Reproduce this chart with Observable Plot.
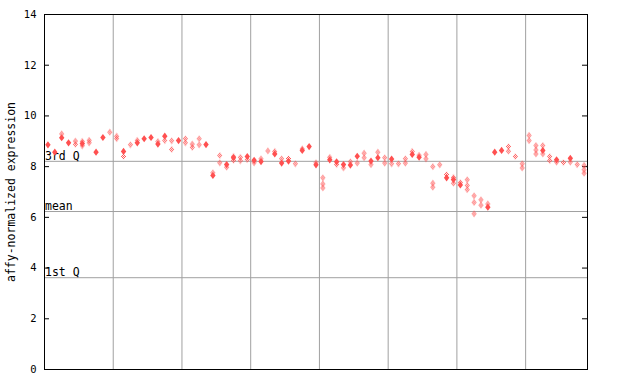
<!DOCTYPE html>
<html>
<head>
<meta charset="utf-8">
<script src="https://cdn.jsdelivr.net/npm/d3@7"></script>
<script src="https://cdn.jsdelivr.net/npm/@observablehq/plot@0.6"></script>
<style>
  html, body { margin: 0; padding: 0; background: #fff; }
</style>
</head>
<body>
<div id="chart"></div>
<script>
// ---- data ----
const nSamples = 79;
const yTicks = [0, 2, 4, 6, 8, 10, 12, 14];
const groupBreaks = [10, 20, 30, 40, 50, 60, 70];
const quantNames = ["3rd Q", "mean", "1st Q"];
const quantVals = [8.21, 6.23, 3.62];
const yLabel = "affy-normalized expression";

// solid (filled) diamonds: sample index and value
const solidIdx = [0, 1, 2, 3, 5, 7, 8, 11, 13, 14, 15, 16, 17, 19, 23, 24, 26, 27, 29, 30, 31, 33, 34, 35, 37, 38, 39,
  41, 42, 43, 44, 45, 47, 48, 50, 53, 54, 58, 59, 60, 64, 65, 66, 72, 74, 76];
const solidVal = [8.86, 8.57, 9.14, 8.94, 8.91, 8.57, 9.15, 8.6, 8.94, 9.1, 9.15, 8.89, 9.2, 9.03, 8.87, 7.65, 8.08, 8.35, 8.4, 8.25, 8.2, 8.5, 8.14, 8.22, 8.64, 8.79, 8.07,
  8.27, 8.19, 8.08, 8.06, 8.41, 8.22, 8.35, 8.3, 8.48, 8.37, 7.56, 7.49, 7.28, 6.4, 8.57, 8.64, 8.64, 8.27, 8.33];

// hatched (checkered) diamonds: sample index and value
const hatchIdx = [2, 4, 4, 5, 5, 6, 6, 9, 10, 10, 11, 12, 13, 16, 17, 18, 18, 20, 20, 21, 21, 22, 22, 24, 25, 25, 26, 27, 27,
  28, 28, 29, 30, 31, 32, 33, 34, 35, 36, 37, 39, 40, 40, 40,
  41, 42, 43, 44, 45, 46, 46, 47, 48, 49, 49, 50, 51, 52, 52, 53, 54, 55, 55, 56, 56, 56, 57, 58, 59, 59, 60,
  61, 61, 61, 62, 62, 62, 63, 63, 64, 67, 67, 68, 69, 69, 70, 70, 71, 71, 71, 72, 72, 73, 73, 74, 75, 76, 77, 78, 78, 78];
const hatchVal = [9.29, 9.01, 8.88, 9.0, 8.82, 9.04, 8.94, 9.36, 9.2, 9.1, 8.4, 8.86, 9.04, 8.99, 9.03, 9.02, 8.68, 9.1, 8.94, 8.89, 8.76, 9.1, 8.86, 7.76, 8.44, 8.15, 7.98, 8.41, 8.25,
  8.37, 8.23, 8.28, 8.15, 8.31, 8.62, 8.6, 8.31, 8.32, 8.11, 8.7, 8.15, 7.56, 7.32, 7.16,
  8.37, 8.08, 7.95, 8.19, 8.14, 8.53, 8.35, 8.08, 8.57, 8.35, 8.14, 8.11, 8.11, 8.31, 8.14, 8.6, 8.45, 8.48, 8.31, 8.0, 7.35, 7.19, 8.07, 7.69, 7.58, 7.35, 7.37,
  7.48, 7.26, 7.09, 6.85, 6.59, 6.14, 6.69, 6.48, 6.53, 8.79, 8.61, 8.4, 8.11, 7.95, 9.23, 9.03, 8.83, 8.66, 8.5, 8.83, 8.5, 8.4, 8.24, 8.18, 8.16, 8.18, 8.08, 8.05, 7.88, 7.74];

const solid = solidIdx.map((i, k) => ({i, v: solidVal[k]}));
const hatch = hatchIdx.map((i, k) => ({i, v: hatchVal[k]}));
const quants = quantNames.map((name, k) => ({name, v: quantVals[k]}));

// ---- styling ----
const red = "#ff5050";
const grid = "#a0a0a0";
const W = 640, H = 384, mL = 44, mR = 53, mT = 14, mB = 15;
const plotW = W - mL - mR;
const diamond = {
  draw(ctx) {
    const hw = 2.7, hh = 3.6;
    ctx.moveTo(0, -hh); ctx.lineTo(hw, 0); ctx.lineTo(0, hh); ctx.lineTo(-hw, 0); ctx.closePath();
  }
};

const chart = Plot.plot({
  width: W, height: H,
  marginLeft: mL, marginRight: mR, marginTop: mT, marginBottom: mB,
  x: {domain: [0, nSamples], axis: null},
  y: {domain: [0, 14], axis: null},
  style: {fontFamily: "DejaVu Sans Mono", fontSize: "11px", color: "black", background: "white"},
  marks: [
    Plot.ruleX(groupBreaks, {stroke: grid, strokeWidth: 1}),
    Plot.ruleY(quants, {y: "v", stroke: grid, strokeWidth: 1}),
    Plot.text(quants, {y: "v", text: "name", frameAnchor: "left", textAnchor: "start", lineAnchor: "bottom", dx: 0.5, dy: -1.5, fontSize: 11.5, fill: "black"}),
    Plot.axisY({ticks: yTicks, tickSize: 0, tickPadding: 8, label: null, fontSize: 10.5, tickFormat: d => String(d)}),
    Plot.ruleY(yTicks, {insetRight: plotW - 5, stroke: "black"}),
    Plot.ruleY(yTicks, {insetLeft: plotW - 5, stroke: "black"}),
    Plot.frame({stroke: "black"}),
    Plot.text([yLabel], {frameAnchor: "left", textAnchor: "middle", rotate: -90, dx: -33, fontSize: 11.5, fill: "black"}),
    Plot.dot(hatch, {x: d => d.i + 0.5, y: "v", symbol: diamond, r: 3, fill: red, stroke: "none"}),
    Plot.dot(solid, {x: d => d.i + 0.5, y: "v", symbol: diamond, r: 3, fill: red, stroke: "none"})
  ]
});

const svg = d3.select(chart);
svg.insert("defs", ":first-child").html(
  `<pattern id="chk" patternUnits="userSpaceOnUse" x="0.5" y="0.5" width="2" height="2">
     <rect x="0" y="0" width="1" height="1" fill="${red}"/>
     <rect x="1" y="1" width="1" height="1" fill="${red}"/>
   </pattern>`);
const dotGroups = svg.selectAll('g[aria-label="dot"]').nodes();
if (dotGroups.length) d3.select(dotGroups[0]).attr("fill", "url(#chk)").selectAll("path").attr("fill", null);
document.getElementById("chart").appendChild(chart);
</script>
</body>
</html>
